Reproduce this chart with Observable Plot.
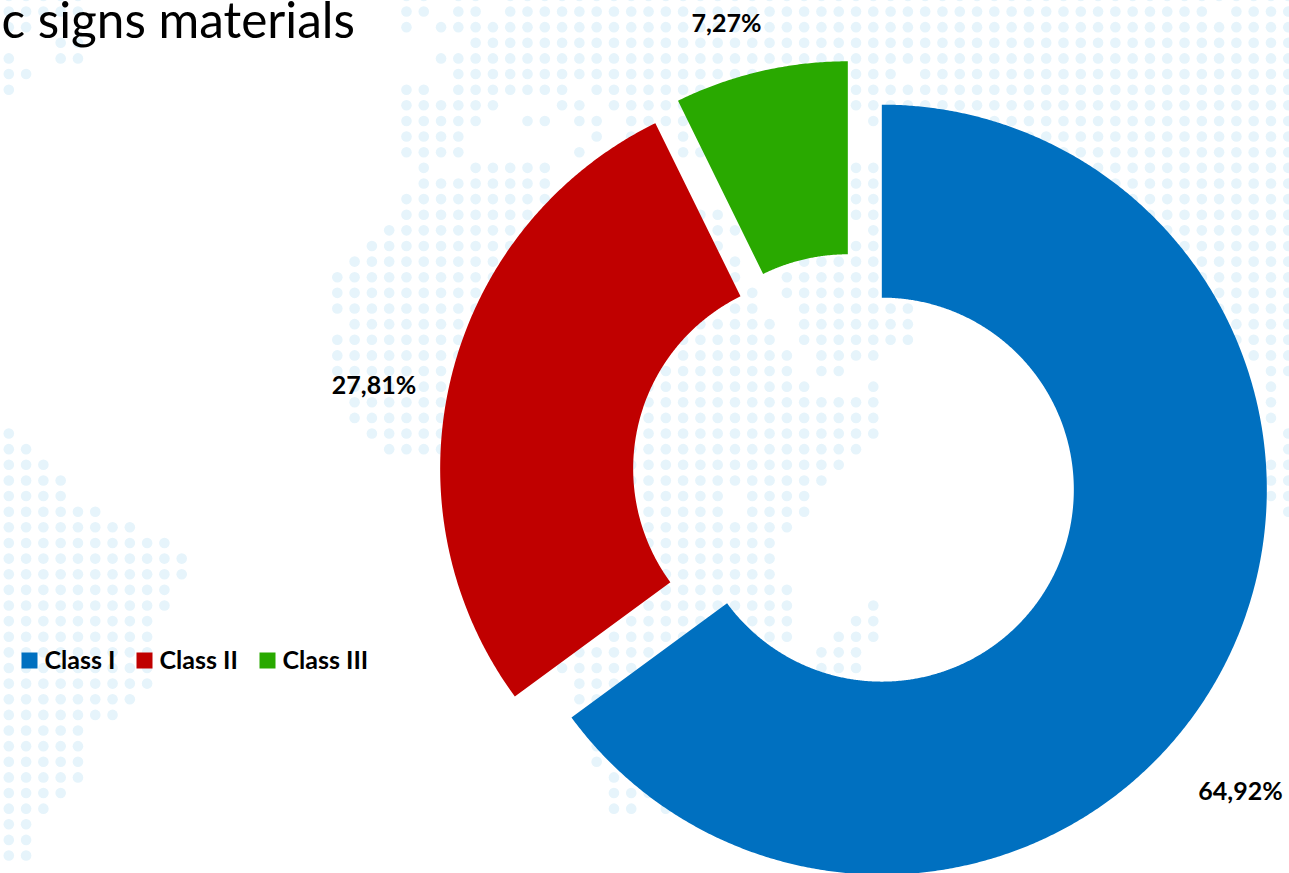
<!DOCTYPE html>
<html>
<head>
<meta charset="utf-8">
<script src="https://cdn.jsdelivr.net/npm/d3@7"></script>
<script src="https://cdn.jsdelivr.net/npm/@observablehq/plot@0.6"></script>
<style>
  html, body { margin: 0; padding: 0; background: #fff; overflow: hidden; }
  svg { display: block; }
</style>
</head>
<body>
<div id="chart"></div>
<script>
// Share of traffic signs materials per retroreflection class
const classes = ["Class I", "Class II", "Class III"];
const shares = [64.92, 27.81, 7.27];
const colors = ["#0070c0", "#c00000", "#29a900"];
const titleText = "c signs materials";

// Where each percentage label and legend entry sits
const labelX = [1240, 373.5, 726];
const labelY = [791, 385, 23];
const legendSwatchX = [29, 144, 267];
const legendTextX = [44, 159, 282];
const legendY = 660;

// Doughnut geometry
const center = [854.2, 475.4];
const outerRadius = 385;
const innerRadius = 192;
const explode = 30.4;

// Dotted world-map backdrop: for each grid row, the runs of filled columns
const mapRuns = [
  "0-4 23-24 26-27 29-74",
  "0-4 23-24 26-27 29-69 71-74",
  "0-1 23 25-74",
  "3-4 27-74",
  "0 3-4 25-74",
  "0-1 26-51 53-74",
  "0 23-24 26-32 34-74",
  "23-28 32-33 35-74",
  "23-27 30-31 33-34 36-39 50-74",
  "23-26 34 36 39 51-74",
  "23-26 33 39-40 51-74",
  "24 27-31 49-74",
  "24-31 49-74",
  "23-35 49-74",
  "23-35 40-41 49-74",
  "22-35 41-42 50-74",
  "21-35 41 49-74",
  "20-35 42 46-74",
  "19-35 42 45-74",
  "19-35 43 45-74",
  "19-35 42-43 46-52 70-74",
  "20-35 40-44 46-52 71-74",
  "19-35 39-44 46-52 71-74",
  "19-35 39-45 47-50 72-74",
  "19-35 38-45 47-48 73-74",
  "20-46 50 73",
  "20-50 73",
  "20-50 73",
  "0 21-50 74",
  "0-1 22-49 74",
  "0-2 36-48 73-74",
  "0-3 36-47 73-74",
  "0-3 37-41 43-46 73-74",
  "0-5 37-41 43-46 74",
  "0-7 37-45",
  "0-9 37-44",
  "0-10 38-44",
  "0-10 38-44",
  "0-9 38-45",
  "0-9 37-45 50",
  "0-8 36-45 49-50",
  "0-8 35-45 48-50",
  "0-8 33-37 47-49",
  "0-8 32-36 47-49",
  "0-8 33-35",
  "0-7 33-34",
  "0-6",
  "0-4",
  "0-4 34",
  "0-4 34",
  "0-4 35",
  "0-3 35-37",
  "0-2 35-36 38",
  "0-1",
  "0-1",
  "0-1"
];
const gridX0 = 8.3, gridDX = 17.29, gridY0 = -4.6, gridDY = 15.63;

const mapDots = mapRuns.flatMap((runs, row) =>
  runs.split(" ").flatMap((run) => {
    const [a, b = a] = run.split("-").map(Number);
    return d3.range(a, b + 1).map((col) => ({
      x: gridX0 + gridDX * col,
      y: gridY0 + gridDY * row
    }));
  })
);

// Outline each slice as a closed ring segment, pushed out along its mid-angle
const total = d3.sum(shares);
let running = 0;
const slicePoints = shares.flatMap((share, i) => {
  const a0 = (running / total) * 2 * Math.PI;
  running += share;
  const a1 = (running / total) * 2 * Math.PI;
  const mid = (a0 + a1) / 2;
  const cx = center[0] + explode * Math.sin(mid);
  const cy = center[1] - explode * Math.cos(mid);
  const steps = Math.ceil((a1 - a0) * 180);
  const angles = d3.range(steps + 1).map((k) => a0 + ((a1 - a0) * k) / steps);
  const at = (r) => (a) => ({
    cls: classes[i],
    x: cx + r * Math.sin(a),
    y: cy - r * Math.cos(a)
  });
  return [...angles.map(at(outerRadius)), ...angles.slice().reverse().map(at(innerRadius))];
});

const labels = shares.map((s, i) => ({
  text: s.toFixed(2).replace(".", ",") + "%",
  x: labelX[i],
  y: labelY[i]
}));
const legend = classes.map((c, i) => ({ cls: c, sx: legendSwatchX[i], tx: legendTextX[i] }));

const chart = Plot.plot({
  width: 1289,
  height: 873,
  margin: 0,
  style: { background: "#fff", overflow: "hidden" },
  x: { domain: [0, 1289], range: [0, 1289], axis: null },
  y: { domain: [0, 873], range: [0, 873], axis: null },
  color: { domain: classes, range: colors },
  marks: [
    Plot.dot(mapDots, { x: "x", y: "y", r: 5.3, fill: "#e6f4fb", stroke: "none" }),
    Plot.line(slicePoints, { x: "x", y: "y", z: "cls", fill: "cls", stroke: "none", curve: "linear-closed" }),
    Plot.text([titleText], {
      x: () => 1, y: () => 22, text: (d) => d, textAnchor: "start",
      fontFamily: "Lato", fontSize: 49.5, fill: "#000"
    }),
    Plot.text(labels, {
      x: "x", y: "y", text: "text", fontFamily: "Lato", fontWeight: 700, fontSize: 25, fill: "#000"
    }),
    Plot.dot(legend, { x: "sx", y: () => legendY, fill: "cls", symbol: "square", r: 9.03, stroke: "none" }),
    Plot.text(legend, {
      x: "tx", y: () => legendY, text: "cls", textAnchor: "start",
      fontFamily: "Lato", fontWeight: 700, fontSize: 25, fill: "#000"
    })
  ]
});
document.getElementById("chart").append(chart);
</script>
</body>
</html>
